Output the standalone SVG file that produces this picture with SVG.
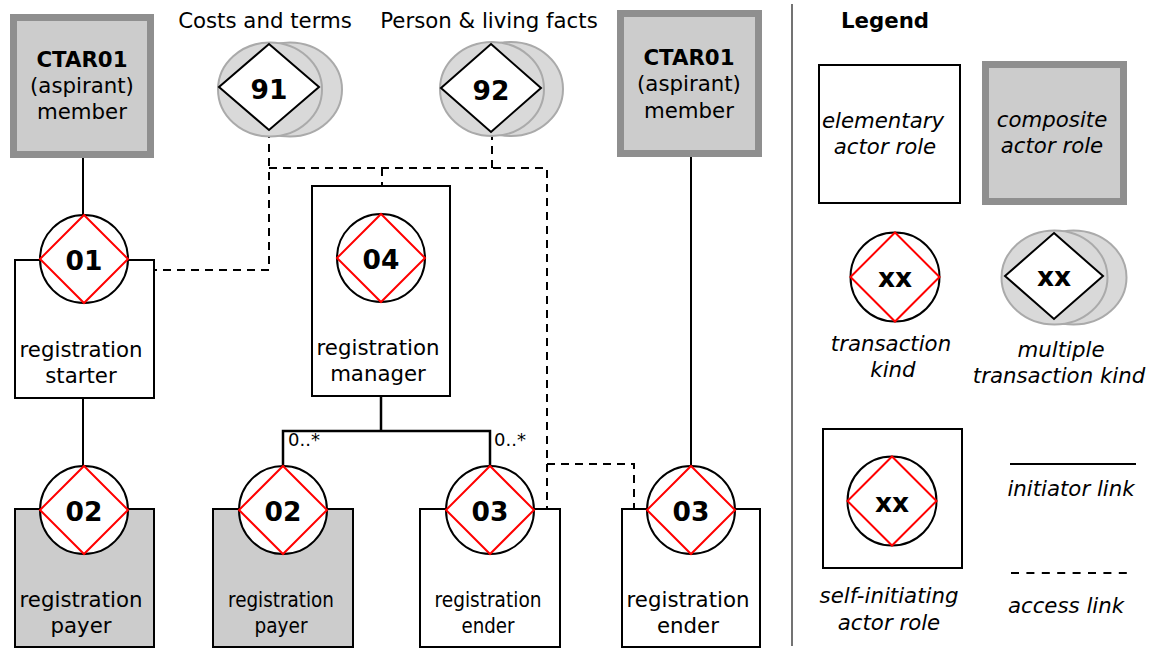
<svg xmlns="http://www.w3.org/2000/svg" width="1151" height="648" viewBox="0 0 1151 648">
  <style>
    text { font-family: "DejaVu Sans", Verdana, sans-serif; fill: #000; text-anchor: middle; }
    .lbl { font-size: 21.3px; }
    .sm { font-size: 21px; }
    .num { font-size: 26.5px; font-weight: bold; }
    .ttl { font-size: 21.3px; font-weight: bold; }
    .it { font-size: 21.3px; font-style: italic; }
    .card { font-size: 18px; text-anchor: start; }
    .elem { fill: #fff; stroke: #000; stroke-width: 2; }
    .elemg { fill: #cccccc; stroke: #000; stroke-width: 2; }
    .comp { fill: #cccccc; stroke: #8f8f8f; stroke-width: 7; }
    .tc { fill: #fff; stroke: #000; stroke-width: 2; }
    .td { fill: none; stroke: #ff0000; stroke-width: 2; }
    .me { fill: #d9d9d9; stroke: #aaaaaa; stroke-width: 2; }
    .md { fill: #fff; stroke: #000; stroke-width: 2; }
    .init { fill: none; stroke: #000; stroke-width: 2; }
    .acc { fill: none; stroke: #000; stroke-width: 2; stroke-dasharray: 8 6; }
  </style>

  <!-- connectors -->
  <g id="connectors">
    <line class="init" x1="83" y1="157" x2="83" y2="215"/>
    <line class="init" x1="83" y1="398" x2="83" y2="466"/>
    <line class="init" x1="691" y1="157" x2="691" y2="466"/>
    <polyline class="init" style="stroke-width:2.5" points="381,396 381,431"/>
    <polyline class="init" style="stroke-width:2.5" points="283,466 283,431 490,431 490,466"/>
    <text class="card" x="288" y="446">0..*</text>
    <text class="card" x="494" y="446">0..*</text>
    <polyline class="acc" points="269,130 269,270 154,270"/>
    <polyline class="acc" points="269,168 547,168 547,509"/>
    <line class="acc" x1="492" y1="132" x2="492" y2="168"/>
    <line class="acc" x1="382" y1="168" x2="382" y2="186"/>
    <polyline class="acc" points="547,464 634,464 634,509"/>
  </g>

  <!-- composite actor roles -->
  <g id="ctar01-left">
    <rect class="comp" x="13.5" y="17.5" width="137" height="137"/>
    <text class="ttl" x="82" y="67">CTAR01</text>
    <text class="lbl" x="82" y="93">(aspirant)</text>
    <text class="lbl" x="82" y="119">member</text>
  </g>
  <g id="ctar01-right">
    <rect class="comp" x="620.5" y="13.5" width="138" height="140"/>
    <text class="ttl" x="689" y="65">CTAR01</text>
    <text class="lbl" x="689" y="91">(aspirant)</text>
    <text class="lbl" x="689" y="118">member</text>
  </g>

  <!-- multiple transaction kinds -->
  <g id="mtk-91">
    <text class="lbl" x="265" y="28">Costs and terms</text>
    <ellipse class="me" cx="290" cy="89.5" rx="52" ry="47"/>
    <ellipse class="me" cx="270" cy="89.5" rx="52" ry="47"/>
    <polygon class="md" points="269,44 319,87 269,130 219,87"/>
    <text class="num" x="269" y="99">91</text>
  </g>
  <g id="mtk-92">
    <text class="lbl" x="489" y="28">Person &amp; living facts</text>
    <ellipse class="me" cx="511" cy="89" rx="52" ry="47"/>
    <ellipse class="me" cx="492" cy="89" rx="52" ry="47"/>
    <polygon class="md" points="491,44 541,88 491,132 441,88"/>
    <text class="num" x="491" y="100">92</text>
  </g>

  <!-- registration starter -->
  <g id="starter">
    <rect class="elem" x="15" y="260" width="139" height="138"/>
    <circle class="tc" cx="84" cy="259" r="44"/>
    <polygon class="td" points="84,215 128,259 84,303 40,259"/>
    <text class="num" x="84" y="270">01</text>
    <text class="lbl" x="81" y="357">registration</text>
    <text class="lbl" x="81" y="383">starter</text>
  </g>

  <!-- registration manager -->
  <g id="manager">
    <rect class="elem" x="312" y="186" width="138" height="210"/>
    <circle class="tc" cx="381" cy="258" r="44"/>
    <polygon class="td" points="381,214 425,258 381,302 337,258"/>
    <text class="num" x="381" y="269">04</text>
    <text class="lbl" x="378" y="355">registration</text>
    <text class="lbl" x="378" y="381">manager</text>
  </g>

  <!-- registration payer (left) -->
  <g id="payer-1">
    <rect class="elemg" x="15" y="509" width="139" height="138"/>
    <circle class="tc" cx="84" cy="510" r="44"/>
    <polygon class="td" points="84,466 128,510 84,554 40,510"/>
    <text class="num" x="84" y="521">02</text>
    <text class="lbl" x="81" y="607">registration</text>
    <text class="lbl" x="81" y="633">payer</text>
  </g>

  <!-- registration payer (under manager) -->
  <g id="payer-2">
    <rect class="elemg" x="213" y="509" width="140" height="138"/>
    <circle class="tc" cx="283" cy="510" r="44"/>
    <polygon class="td" points="283,466 327,510 283,554 239,510"/>
    <text class="num" x="283" y="521">02</text>
    <text class="sm" x="281" y="607" textLength="106" lengthAdjust="spacingAndGlyphs">registration</text>
    <text class="sm" x="281" y="633" textLength="53" lengthAdjust="spacingAndGlyphs">payer</text>
  </g>

  <!-- registration ender (under manager) -->
  <g id="ender-1">
    <rect class="elem" x="420" y="509" width="140" height="138"/>
    <circle class="tc" cx="490" cy="510" r="44"/>
    <polygon class="td" points="490,466 534,510 490,554 446,510"/>
    <text class="num" x="490" y="521">03</text>
    <text class="sm" x="488" y="607" textLength="107" lengthAdjust="spacingAndGlyphs">registration</text>
    <text class="sm" x="488" y="633" textLength="53" lengthAdjust="spacingAndGlyphs">ender</text>
  </g>

  <!-- registration ender (right) -->
  <g id="ender-2">
    <rect class="elem" x="622" y="509" width="138" height="138"/>
    <circle class="tc" cx="691" cy="510" r="44"/>
    <polygon class="td" points="691,466 735,510 691,554 647,510"/>
    <text class="num" x="691" y="521">03</text>
    <text class="lbl" x="688" y="607">registration</text>
    <text class="lbl" x="688" y="633">ender</text>
  </g>

  <!-- legend -->
  <g id="legend">
    <line x1="792" y1="4" x2="792" y2="646" stroke="#444" stroke-width="1.5"/>
    <text class="ttl" x="885" y="28">Legend</text>

    <rect class="elem" x="819" y="65" width="141" height="138"/>
    <text class="it" x="883" y="128">elementary</text>
    <text class="it" x="885" y="154">actor role</text>

    <rect class="comp" x="985.5" y="64.5" width="138" height="137"/>
    <text class="it" x="1052" y="127">composite</text>
    <text class="it" x="1052" y="153">actor role</text>

    <circle class="tc" cx="895" cy="277" r="44.5"/>
    <polygon class="td" points="895,232.5 939.5,277 895,321.5 850.5,277"/>
    <text class="num" x="895" y="287">xx</text>
    <text class="it" x="891" y="351">transaction</text>
    <text class="it" x="893" y="377">kind</text>

    <ellipse class="me" cx="1073.5" cy="277.5" rx="53" ry="47"/>
    <ellipse class="me" cx="1054.5" cy="277.5" rx="53" ry="47"/>
    <polygon class="md" points="1054,233 1103,276 1054,319 1005,276"/>
    <text class="num" x="1054" y="286">xx</text>
    <text class="it" x="1061" y="357">multiple</text>
    <text class="it" x="1059" y="383">transaction kind</text>

    <rect class="elem" x="823" y="429" width="139" height="139"/>
    <circle class="tc" cx="892" cy="501" r="44.5"/>
    <polygon class="td" points="892,456.5 936.5,501 892,545.5 847.5,501"/>
    <text class="num" x="892" y="512">xx</text>
    <text class="it" x="889" y="603">self-initiating</text>
    <text class="it" x="889" y="630">actor role</text>

    <line class="init" x1="1010" y1="464" x2="1136" y2="464"/>
    <text class="it" x="1071" y="496">initiator link</text>
    <line class="init" x1="1011" y1="573" x2="1130" y2="573" stroke-dasharray="8 7.4"/>
    <text class="it" x="1066" y="613">access link</text>
  </g>
</svg>
